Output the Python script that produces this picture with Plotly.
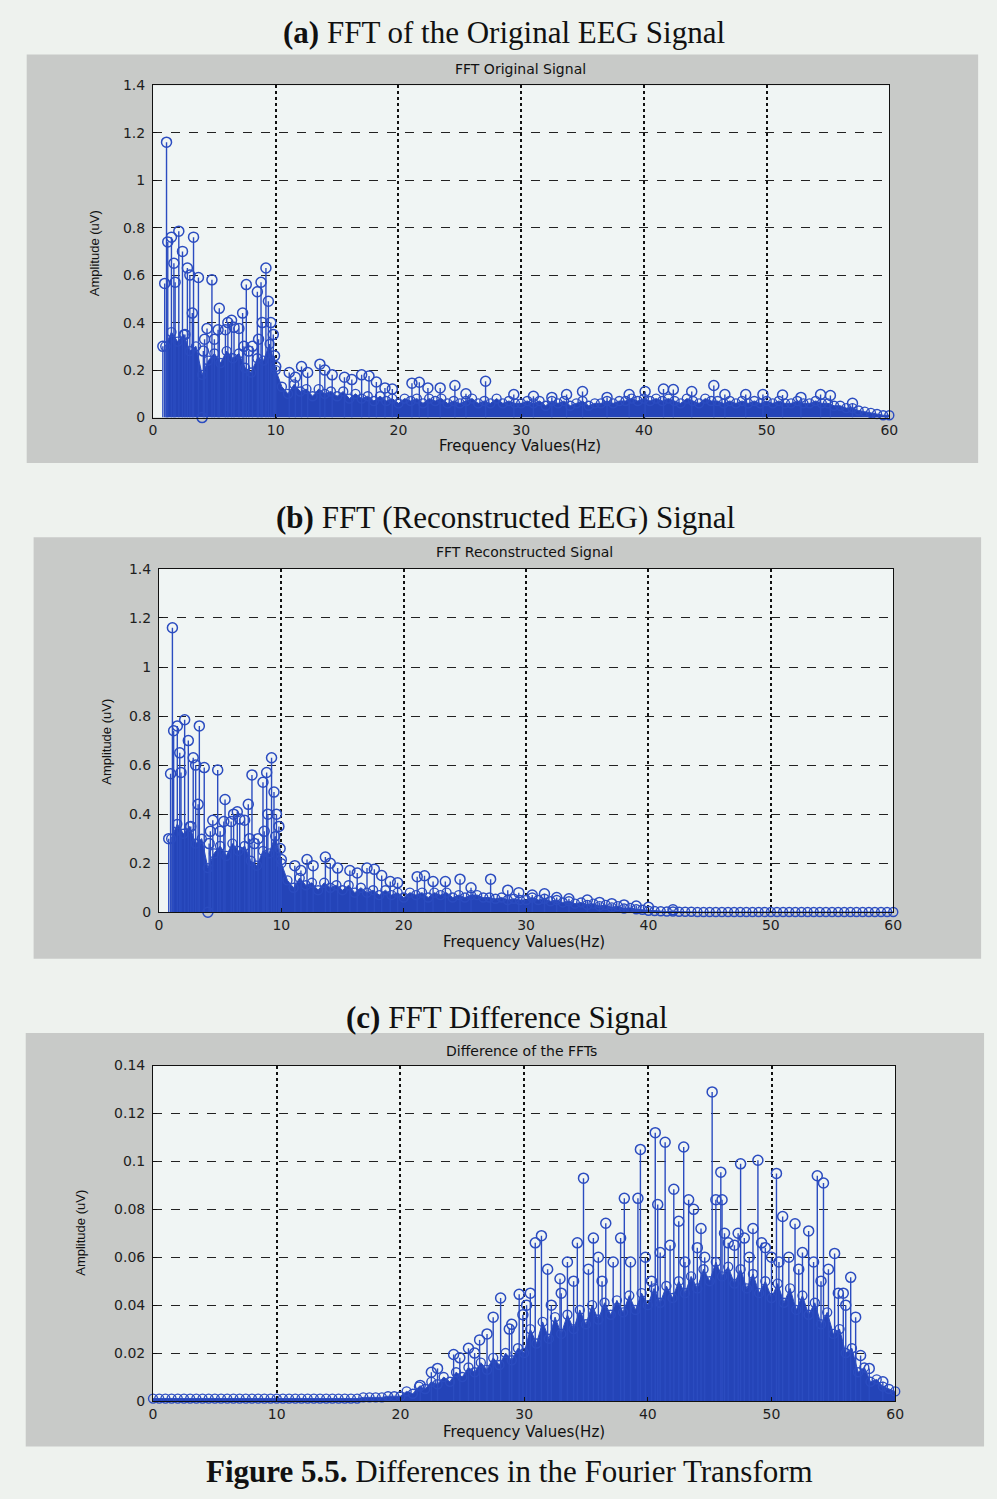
import plotly.graph_objects as go

W, H = 997, 1499

# ---------------- data ----------------
# frequency bins of the dense "floor" of stems (0 .. 60 Hz, 0.5 Hz step)
FREQ_GRID = [i * 0.5 for i in range(121)]

# panel (a): FFT Original Signal - dense floor level per bin
floor_a = [None, None, 0.30, 0.36, 0.32, 0.35, 0.28, 0.30, 0.18, 0.24,
           0.27, 0.23, 0.28, 0.25, 0.27, 0.21, 0.19, 0.25, 0.24, 0.31,
           0.20, 0.13, 0.10, 0.14, 0.11, 0.12, 0.09, 0.12, 0.10, 0.11,
           0.09, 0.11, 0.08, 0.10, 0.08, 0.09, 0.07, 0.09, 0.07, 0.08,
           0.06, 0.08, 0.07, 0.08, 0.06, 0.08, 0.07, 0.08, 0.06, 0.07,
           0.06, 0.07, 0.08, 0.06, 0.07, 0.06, 0.08, 0.06, 0.07, 0.06,
           0.06, 0.07, 0.06, 0.07, 0.05, 0.07, 0.06, 0.07, 0.05, 0.06,
           0.07, 0.05, 0.06, 0.06, 0.07, 0.06, 0.07, 0.07, 0.08, 0.07,
           0.08, 0.07, 0.08, 0.07, 0.08, 0.07, 0.06, 0.08, 0.07, 0.06,
           0.08, 0.07, 0.07, 0.06, 0.07, 0.06, 0.07, 0.06, 0.07, 0.06,
           0.07, 0.06, 0.07, 0.06, 0.06, 0.07, 0.06, 0.06, 0.07, 0.06,
           0.06, 0.05, 0.05, 0.04, 0.04, 0.03, 0.025, 0.02, 0.015, 0.01,
           0.01]

peaks_a_freq = [0.8, 0.95, 1.1, 1.2, 1.5, 1.7, 1.8, 2.1, 2.4, 2.6, 2.8, 3.0,
                3.2, 3.3, 3.7, 4.0, 4.1, 4.2, 4.4, 4.8, 5.0, 5.3, 5.4, 5.9,
                6.1, 6.4, 6.6, 7.0, 7.3, 7.4, 7.6, 7.8, 8.1, 8.5, 8.6, 8.8,
                8.9, 9.2, 9.4, 9.6, 9.8, 9.9, 10.0, 11.1, 11.6, 12.1, 12.6,
                13.6, 14.0, 14.6, 15.6, 16.2, 17.0, 17.6, 18.2, 18.9, 19.5,
                21.1, 21.7, 22.4, 23.4, 24.6, 25.5, 27.1, 29.4, 31.0, 32.5,
                33.7, 35.0, 37.0, 38.8, 40.1, 41.6, 42.4, 43.9, 45.7, 46.6,
                48.3, 49.7, 51.3, 52.8, 54.4, 55.2, 57.0]
peaks_a_val = [0.30, 0.565, 1.16, 0.74, 0.76, 0.65, 0.57, 0.785, 0.70, 0.35,
               0.63, 0.60, 0.44, 0.76, 0.59, 0.0, 0.28, 0.33, 0.375, 0.58,
               0.33, 0.37, 0.46, 0.37, 0.40, 0.41, 0.38, 0.375, 0.44, 0.30,
               0.56, 0.28, 0.30, 0.53, 0.33, 0.57, 0.40, 0.63, 0.49, 0.40,
               0.35, 0.26, 0.215, 0.19, 0.17, 0.215, 0.19, 0.225, 0.20, 0.18,
               0.17, 0.16, 0.18, 0.175, 0.15, 0.125, 0.12, 0.145, 0.149,
               0.125, 0.125, 0.135, 0.10, 0.153, 0.097, 0.09, 0.085, 0.097,
               0.11, 0.085, 0.097, 0.11, 0.12, 0.118, 0.11, 0.135, 0.097,
               0.097, 0.097, 0.095, 0.085, 0.097, 0.093, 0.06]

# panel (b): FFT Reconstructed Signal
floor_b = [None, None, 0.30, 0.36, 0.32, 0.35, 0.28, 0.30, 0.18, 0.24,
           0.27, 0.23, 0.28, 0.25, 0.27, 0.21, 0.19, 0.25, 0.24, 0.31,
           0.20, 0.13, 0.10, 0.14, 0.11, 0.12, 0.09, 0.12, 0.10, 0.11,
           0.09, 0.11, 0.08, 0.10, 0.08, 0.09, 0.07, 0.09, 0.07, 0.08,
           0.06, 0.08, 0.07, 0.08, 0.06, 0.08, 0.07, 0.08, 0.06, 0.07,
           0.06, 0.07, 0.07, 0.06, 0.06, 0.055, 0.06, 0.05, 0.055, 0.05,
           0.05, 0.06, 0.05, 0.055, 0.045, 0.05, 0.04, 0.045, 0.035, 0.04,
           0.03, 0.035, 0.025, 0.03, 0.02, 0.025, 0.015, 0.018, 0.012, 0.01,
           0.006, 0.005, 0.004, 0.003, 0.003, 0.002, 0.002, 0.002, 0.001, 0.001,
           0.001, 0.001, 0.001, 0.001, 0.001, 0.001, 0.001, 0.001, 0.001, 0.001,
           0.001, 0.001, 0.001, 0.001, 0.001, 0.001, 0.001, 0.001, 0.001, 0.001,
           0.001, 0.001, 0.001, 0.001, 0.001, 0.001, 0.001, 0.001, 0.001, 0.001,
           0.001]

peaks_b_freq = [0.8, 0.95, 1.1, 1.2, 1.5, 1.7, 1.8, 2.1, 2.4, 2.6, 2.8, 3.0,
                3.2, 3.3, 3.7, 4.0, 4.1, 4.2, 4.4, 4.8, 5.0, 5.3, 5.4, 5.9,
                6.1, 6.4, 6.6, 7.0, 7.3, 7.4, 7.6, 7.8, 8.1, 8.5, 8.6, 8.8,
                8.9, 9.2, 9.4, 9.6, 9.8, 9.9, 10.0, 11.1, 11.6, 12.1, 12.6,
                13.6, 14.0, 14.6, 15.6, 16.2, 17.0, 17.6, 18.2, 18.9, 19.5,
                21.1, 21.7, 22.4, 23.4, 24.6, 25.5, 27.1, 28.5, 29.4, 30.5,
                31.5, 32.5, 33.5, 35.0, 36.0, 37.0, 38.0, 39.0, 40.0, 42.0]
peaks_b_val = [0.30, 0.565, 1.16, 0.74, 0.76, 0.65, 0.57, 0.785, 0.70, 0.35,
               0.63, 0.60, 0.44, 0.76, 0.59, 0.0, 0.28, 0.33, 0.375, 0.58,
               0.33, 0.37, 0.46, 0.37, 0.40, 0.41, 0.38, 0.375, 0.44, 0.30,
               0.56, 0.28, 0.30, 0.53, 0.33, 0.57, 0.40, 0.63, 0.49, 0.40,
               0.35, 0.26, 0.215, 0.19, 0.17, 0.215, 0.19, 0.225, 0.20, 0.18,
               0.17, 0.16, 0.18, 0.175, 0.15, 0.125, 0.12, 0.145, 0.149,
               0.125, 0.125, 0.135, 0.10, 0.135, 0.09, 0.08, 0.07, 0.075,
               0.06, 0.055, 0.05, 0.04, 0.035, 0.03, 0.025, 0.02, 0.01]

# panel (c): Difference of the FFTs
floor_c = [0.001, 0.001, 0.001, 0.001, 0.001, 0.001, 0.001, 0.001, 0.001, 0.001,
           0.001, 0.001, 0.001, 0.001, 0.001, 0.001, 0.001, 0.001, 0.001, 0.001,
           0.001, 0.001, 0.001, 0.001, 0.001, 0.001, 0.001, 0.001, 0.001, 0.001,
           0.001, 0.001, 0.001, 0.001, 0.0015, 0.0015, 0.0015, 0.0015, 0.002, 0.002,
           0.002, 0.004, 0.003, 0.006, 0.005, 0.008, 0.007, 0.010, 0.008, 0.012,
           0.010, 0.014, 0.012, 0.016, 0.013, 0.018, 0.015, 0.020, 0.017, 0.022,
           0.020, 0.030, 0.024, 0.033, 0.026, 0.035, 0.028, 0.036, 0.030, 0.038,
           0.032, 0.040, 0.034, 0.041, 0.036, 0.042, 0.037, 0.044, 0.038, 0.045,
           0.040, 0.047, 0.041, 0.048, 0.043, 0.050, 0.045, 0.052, 0.047, 0.055,
           0.050, 0.058, 0.052, 0.056, 0.049, 0.055, 0.047, 0.053, 0.045, 0.050,
           0.043, 0.049, 0.041, 0.047, 0.038, 0.044, 0.036, 0.041, 0.032, 0.037,
           0.028, 0.030, 0.020, 0.022, 0.012, 0.014, 0.008, 0.009, 0.006, 0.005,
           0.004]

peaks_c_freq = [21.6, 22.5, 23.0, 24.3, 25.5, 26.4, 27.5, 28.1, 28.8, 29.6,
                30.2, 30.9, 31.4, 31.9, 32.9, 33.5, 34.3, 34.8, 35.6, 36.0,
                36.6, 37.8, 38.1, 38.6, 39.2, 39.4, 40.6, 40.8, 41.0, 41.4,
                42.1, 42.5, 42.9, 43.3, 43.7, 44.0, 44.3, 45.2, 45.5, 45.9,
                46.0, 46.5, 47.3, 47.5, 48.5, 48.9, 49.5, 50.0, 50.4, 50.9,
                51.9, 52.5, 53.0, 53.7, 54.2, 54.6, 55.1, 55.8, 56.4, 57.2,
                57.9, 59.0,
                24.8, 26.0, 27.0, 29.0, 29.9, 30.5, 32.2, 33.0, 34.0, 35.2,
                36.3, 37.2, 39.8, 40.3, 41.8, 43.0, 44.6, 46.2, 47.0, 47.8,
                48.2, 49.2, 50.6, 51.4, 52.2, 53.4, 54.0, 55.4, 56.0, 56.8]
peaks_c_val = [0.0065, 0.012, 0.0136, 0.0194, 0.022, 0.0255, 0.035, 0.043,
               0.030, 0.0445, 0.040, 0.066, 0.069, 0.055, 0.051, 0.058, 0.066,
               0.093, 0.068, 0.060, 0.0742, 0.068, 0.0846, 0.058, 0.0846,
               0.105, 0.112, 0.082, 0.062, 0.108, 0.0884, 0.075, 0.106, 0.084,
               0.080, 0.064, 0.072, 0.129, 0.084, 0.0955, 0.084, 0.066, 0.070,
               0.099, 0.072, 0.1005, 0.064, 0.060, 0.095, 0.077, 0.074, 0.062,
               0.071, 0.094, 0.091, 0.055, 0.0616, 0.045, 0.0516, 0.019,
               0.0136, 0.008,
               0.018, 0.020, 0.028, 0.032, 0.036, 0.045, 0.040, 0.045, 0.050,
               0.055, 0.050, 0.058, 0.060, 0.050, 0.065, 0.058, 0.060, 0.070,
               0.065, 0.068, 0.060, 0.066, 0.058, 0.060, 0.055, 0.058, 0.050,
               0.045, 0.040, 0.035]

X_TICKS = [0, 10, 20, 30, 40, 50, 60]
Y_TICKS_AB = [0, 0.2, 0.4, 0.6, 0.8, 1.0, 1.2, 1.4]
Y_TICKS_C = [0, 0.02, 0.04, 0.06, 0.08, 0.10, 0.12, 0.14]

# ---------------- styling ----------------
BLUE = "#2b4cc0"
FILL = "#2444b8"
PAGE = "#eef2ee"
GREY = "#c8cac8"
PLOT = "#f0f5f4"
TICK_FONT = dict(family="DejaVu Sans", size=14, color="#1e1e1e")

fig = go.Figure()


def px_x(px):
    return px / W


def px_y(py):
    return 1 - py / H


panels = [
    # (floor, peak f, peak v, plot box, grey box, yticks, yrange)
    (floor_a, peaks_a_freq, peaks_a_val, (151, 78, 897, 414), (23, 47, 987, 460), Y_TICKS_AB, [0, 1.4]),
    (floor_b, peaks_b_freq, peaks_b_val, (157, 567, 901, 914), (30, 535, 990, 961), Y_TICKS_AB, [0, 1.4]),
    (floor_c, peaks_c_freq, peaks_c_val, (151, 1069, 903, 1408), (22, 1036, 993, 1454), Y_TICKS_C, [0, 0.14]),
]

shapes = []
for i, (floor, pf, pv, box, gbox, yt, yr) in enumerate(panels, start=1):
    xa = "x" if i == 1 else f"x{i}"
    ya = "y" if i == 1 else f"y{i}"
    # grey panel and white plot background
    shapes.append(dict(type="rect", xref="paper", yref="paper", layer="below",
                       x0=px_x(gbox[0]), x1=px_x(gbox[2]), y0=px_y(gbox[3]), y1=px_y(gbox[1]),
                       fillcolor=GREY, line=dict(width=0)))
    shapes.append(dict(type="rect", xref="paper", yref="paper", layer="below",
                       x0=px_x(box[0]), x1=px_x(box[2]), y0=px_y(box[3]), y1=px_y(box[1]),
                       fillcolor=PLOT, line=dict(width=0)))
    # dense floor of stems
    fig.add_trace(go.Scatter(
        x=FREQ_GRID, y=floor, xaxis=xa, yaxis=ya, mode="lines+markers",
        fill="tozeroy", fillcolor=FILL, line=dict(color=BLUE, width=1),
        marker=dict(symbol="circle-open", size=9, color=BLUE, line=dict(width=1.4, color=BLUE)),
        cliponaxis=False, showlegend=False, hoverinfo="skip"))
    # individual stems
    sx, sy = [], []
    for f, v in zip(pf, pv):
        sx += [f, f, None]
        sy += [0, v, None]
    fig.add_trace(go.Scatter(x=sx, y=sy, xaxis=xa, yaxis=ya, mode="lines",
                             line=dict(color=BLUE, width=1.4), showlegend=False,
                             hoverinfo="skip"))
    fig.add_trace(go.Scatter(x=pf, y=pv, xaxis=xa, yaxis=ya, mode="markers",
                             marker=dict(symbol="circle-open", size=10, color=BLUE,
                                         line=dict(width=1.5, color=BLUE)),
                             cliponaxis=False, showlegend=False))

    xkey = "xaxis" if i == 1 else f"xaxis{i}"
    ykey = "yaxis" if i == 1 else f"yaxis{i}"
    fig.layout[xkey] = dict(
        domain=[px_x(box[0]), px_x(box[2])], anchor=ya, range=[0, 60],
        tickvals=X_TICKS, showgrid=True, gridcolor="#111111", griddash="dot",
        gridwidth=1.5, zeroline=False, showline=True, linecolor="#111111",
        linewidth=1, mirror=True, ticks="inside", ticklen=4, tickcolor="#111111",
        tickfont=TICK_FONT)
    fig.layout[ykey] = dict(
        domain=[px_y(box[3]), px_y(box[1])], anchor=xa, range=yr,
        tickvals=yt, showgrid=True, gridcolor="#222222", griddash="dash",
        gridwidth=1, zeroline=False, showline=True, linecolor="#111111",
        linewidth=1, mirror=True, ticks="inside", ticklen=4, tickcolor="#111111",
        tickfont=TICK_FONT, ticklabelstandoff=4)

SERIF = "Liberation Serif"
SANS = "DejaVu Sans"
annotations = []


def ann(text, x, y, size, family, angle=0, color="#111111"):
    annotations.append(dict(text=text, x=px_x(x), y=px_y(y), xref="paper", yref="paper",
                            showarrow=False, xanchor="center", yanchor="middle",
                            textangle=angle, font=dict(family=family, size=size, color=color)))


ann("<b>(a)</b> FFT of the Original EEG Signal", 507, 25, 31, SERIF)
ann("<b>(b)</b> FFT (Reconstructed EEG) Signal", 508, 515, 31, SERIF)
ann("<b>(c)</b> FFT Difference Signal", 510, 1020, 31, SERIF)
ann("<b>Figure 5.5.</b> Differences in the Fourier Transform", 512, 1479, 31, SERIF)

ann("FFT Original Signal", 523, 62, 14, SANS)
ann("FFT Reconstructed Signal", 527, 550, 14, SANS)
ann("Difference of the FFTs", 524, 1054, 14, SANS)

ann("Frequency Values(Hz)", 523, 443, 15, SANS)
ann("Frequency Values(Hz)", 527, 944, 15, SANS)
ann("Frequency Values(Hz)", 527, 1439, 15, SANS)

ann("Amplitude (uV)", 92, 248, 13, "Liberation Sans", angle=-90)
ann("Amplitude (uV)", 103, 742, 13, "Liberation Sans", angle=-90)
ann("Amplitude (uV)", 78, 1238, 13, "Liberation Sans", angle=-90)

fig.update_layout(
    width=W, height=H, margin=dict(l=0, r=0, t=0, b=0),
    paper_bgcolor=PAGE, plot_bgcolor="rgba(0,0,0,0)",
    shapes=shapes, annotations=annotations, showlegend=False,
)

fig.write_html("out.html")
